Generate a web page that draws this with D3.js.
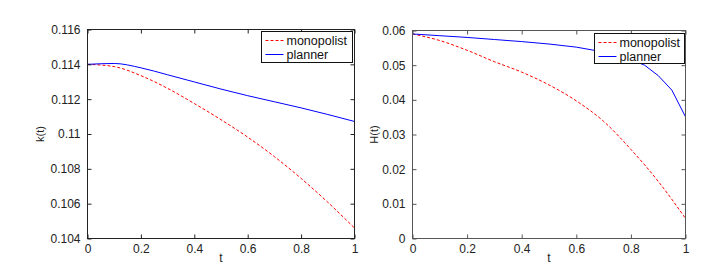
<!DOCTYPE html>
<html><head><meta charset="utf-8">
<script src="https://cdn.jsdelivr.net/npm/d3@7"></script>
<style>body{margin:0;background:#fff}svg{display:block}text{font-family:"Liberation Sans",Arial,sans-serif}</style>
</head><body><svg id="c" width="710" height="269"></svg>
<script>
const tK = [0,0.1,0.2,0.3,0.4,0.5,0.6,0.7,0.8,0.9,1.0];
const kMonopolist = [0.1140,0.11387,0.11335,0.11262,0.11175,0.11082,0.10982,0.10870,0.10745,0.10608,0.10460];
const kPlanner    = [0.1140,0.11405,0.1138,0.11340,0.11299,0.11258,0.1122,0.11185,0.1115,0.11112,0.11072];
const tH = [0,0.1,0.2,0.3,0.4,0.5,0.6,0.7,0.8,0.9,1.0];
const hMonopolist = [0.0590,0.0571,0.0543,0.0510,0.0480,0.0443,0.0397,0.0338,0.0257,0.0165,0.0058];
const tHPlanner = [0,0.1,0.2,0.3,0.4,0.5,0.6,0.7,0.75,0.8,0.85,0.9,0.95,1.0];
const hPlanner  = [0.0590,0.0585,0.0580,0.0574,0.0568,0.0561,0.0552,0.0538,0.0528,0.0516,0.0500,0.0470,0.0428,0.0351];
const xTicks = [0,0.2,0.4,0.6,0.8,1];
const kTicks = [0.104,0.106,0.108,0.11,0.112,0.114,0.116];
const hTicks = [0,0.01,0.02,0.03,0.04,0.05,0.06];
const seriesNames = ["monopolist","planner"];

const svg = d3.select("#c");

function panel(o){
  const x = d3.scaleLinear().domain([0,1]).range([o.x0,o.x1]);
  const y = d3.scaleLinear().domain(o.ydom).range([o.y1,o.y0]);
  const g = svg.append("g");
  const line = (xs,ys,curve)=>d3.line().x((d,i)=>x(xs[i])).y((d,i)=>y(ys[i])).curve(curve)(ys);
  g.append("path").attr("d",line(o.tm,o.m,d3.curveMonotoneX)).attr("fill","none")
    .attr("stroke","#ff0000").attr("stroke-width",1).attr("stroke-dasharray","3,2");
  g.append("path").attr("d",line(o.tp,o.p,o.pcurve)).attr("fill","none")
    .attr("stroke","#0000ff").attr("stroke-width",1);
  g.append("rect").attr("x",o.x0).attr("y",o.y0).attr("width",o.x1-o.x0).attr("height",o.y1-o.y0)
    .attr("fill","none").attr("stroke",o.ac).attr("stroke-width",1);
  const ax = g.append("g").attr("transform",`translate(0,${o.y1})`)
    .call(d3.axisBottom(x).tickValues(xTicks).tickSizeInner(-4).tickSizeOuter(0).tickPadding(6).tickFormat(d3.format("")));
  const axT = g.append("g").attr("transform",`translate(0,${o.y0})`)
    .call(d3.axisTop(x).tickValues(xTicks).tickSizeInner(-4).tickSizeOuter(0).tickFormat(""));
  const ay = g.append("g").attr("transform",`translate(${o.x0},0)`)
    .call(d3.axisLeft(y).tickValues(o.yticks).tickSizeInner(-4).tickSizeOuter(0).tickPadding(7).tickFormat(d=>o.fmt(d)));
  const ayR = g.append("g").attr("transform",`translate(${o.x1},0)`)
    .call(d3.axisRight(y).tickValues(o.yticks).tickSizeInner(-4).tickSizeOuter(0).tickFormat(""));
  [ax,axT,ay,ayR].forEach(a=>{
    a.select(".domain").remove();
    a.selectAll(".tick line").attr("stroke",o.ac);
    a.selectAll(".tick text").attr("fill","#222").style("font-size","12px").style("font-family","Liberation Sans, Arial, sans-serif");
  });
  g.append("text").attr("x",(o.x0+o.x1)/2).attr("y",262).attr("text-anchor","middle")
    .style("font-size","12px").attr("fill","#222").text("t");
  g.append("text").attr("transform",`translate(${o.ylx},${(o.y0+o.y1)/2}) rotate(-90)`)
    .attr("text-anchor","middle").style("font-size","11px").attr("fill","#222").text(o.ylab);
  const L = o.leg;
  const lg = g.append("g");
  lg.append("rect").attr("x",L.x).attr("y",L.y).attr("width",L.w).attr("height",L.h)
    .attr("fill","#fff").attr("stroke","#111").attr("stroke-width",1);
  const rows = [{c:"#ff0000",d:"3,2"},{c:"#0000ff",d:null}];
  rows.forEach((r,i)=>{
    const yy = L.y + 9 + i*14;
    lg.append("line").attr("x1",L.x+4).attr("x2",L.x+22).attr("y1",yy).attr("y2",yy)
      .attr("stroke",r.c).attr("stroke-width",1).attr("stroke-dasharray",r.d);
    lg.append("text").attr("x",L.x+25).attr("y",yy+4.3).style("font-size","12.5px").attr("fill","#111").text(seriesNames[i]);
  });
}

panel({x0:87.5,x1:354.5,y0:29.5,y1:238.5,ydom:[0.104,0.116],yticks:kTicks,fmt:d=>d3.format("")(+d.toFixed(3)),
  tm:tK,m:kMonopolist,tp:tK,p:kPlanner,pcurve:d3.curveMonotoneX,ac:"#222",ylab:"k(t)",ylx:44,
  leg:{x:261.5,y:31.5,w:91,h:31}});
panel({x0:412.5,x1:685.5,y0:30.5,y1:238.5,ydom:[0,0.06],yticks:hTicks,fmt:d=>d3.format("")(+d.toFixed(2)),
  tm:tH,m:hMonopolist,tp:tHPlanner,p:hPlanner,pcurve:d3.curveLinear,ac:"#555",ylab:"H(t)",ylx:378,
  leg:{x:594.5,y:33.5,w:90,h:30}});
</script></body></html>
